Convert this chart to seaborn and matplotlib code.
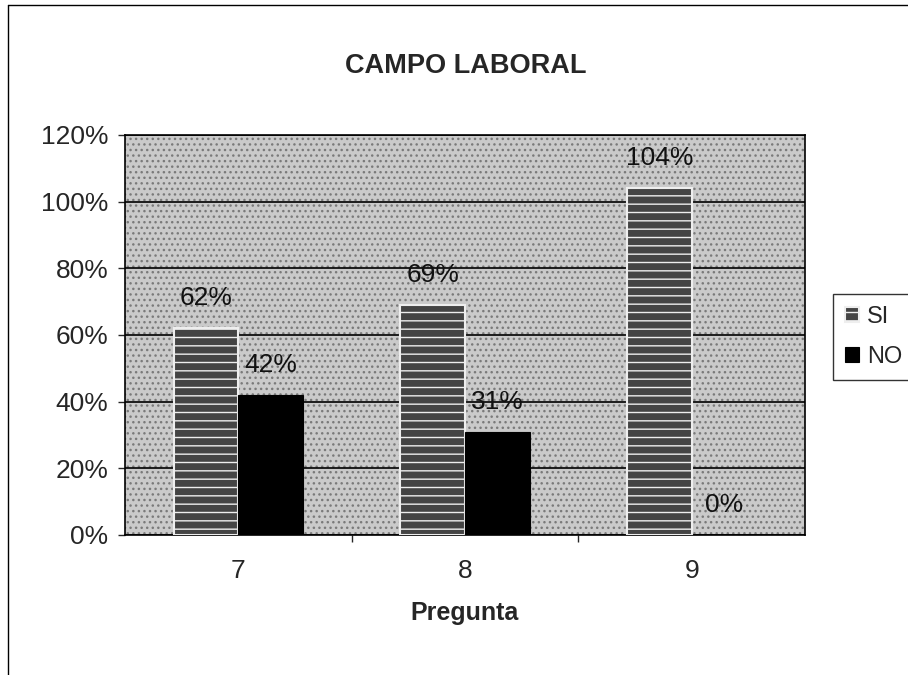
import matplotlib
matplotlib.use("Agg")
import matplotlib.pyplot as plt
import seaborn as sns
import pandas as pd
from matplotlib.patches import Rectangle
from matplotlib.lines import Line2D

categories = ["7", "8", "9"]
series_names = ["SI", "NO"]
si_values = [0.62, 0.69, 1.04]
no_values = [0.42, 0.31, 0.0]
si_labels = ["62%", "69%", "104%"]
no_labels = ["42%", "31%", "0%"]
y_ticks = [0.0, 0.2, 0.4, 0.6, 0.8, 1.0, 1.2]
y_tick_labels = ["0%", "20%", "40%", "60%", "80%", "100%", "120%"]

df = pd.DataFrame({
    "Pregunta": categories * 2,
    "Serie": [series_names[0]] * 3 + [series_names[1]] * 3,
    "Valor": si_values + no_values,
})

sns.set_theme(style="white")
plt.rcParams["font.family"] = ["Liberation Sans", "DejaVu Sans"]

fig = plt.figure(figsize=(9.08, 6.75), dpi=100)
ax = fig.add_axes([125 / 908, 1 - 535 / 675, (805 - 125) / 908, (535 - 135) / 675])

ax.set_facecolor("#cacaca")
# stippled background texture
ax.add_patch(Rectangle((0, 0), 1, 1, transform=ax.transAxes, facecolor="none",
                       edgecolor="#7a7a7a", hatch="...", lw=0, zorder=0))

sns.barplot(data=df, x="Pregunta", y="Valor", hue="Serie", order=categories,
            hue_order=series_names, palette=["#444444", "#000000"],
            width=0.57, ax=ax, legend=False, zorder=3, saturation=1)

for bar in ax.containers[0]:
    bar.set_edgecolor("#eeeeee")
    bar.set_hatch("--")
    bar.set_linewidth(1.5)
for bar in ax.containers[1]:
    bar.set_edgecolor("black")
    bar.set_linewidth(0.8)

for container, labels in zip(ax.containers, [si_labels, no_labels]):
    ax.bar_label(container, labels=labels, padding=13, fontsize=19, color="#111111")

ax.set_ylim(0, 1.2)
ax.set_yticks(y_ticks)
ax.set_yticklabels(y_tick_labels, fontsize=19)
ax.set_xlim(-0.5, 2.5)
ax.tick_params(axis="x", labelsize=19, length=0, pad=17)
ax.tick_params(axis="y", length=5, width=1, direction="out", left=True, pad=7)
ax.set_xticks([0.5, 1.5], minor=True)
ax.tick_params(axis="x", which="minor", length=5, width=1, direction="out", bottom=True)
ax.yaxis.grid(True, color="black", lw=1.2, zorder=1)
ax.set_axisbelow(True)
for s in ax.spines.values():
    s.set_visible(True)
    s.set_color("black")
    s.set_linewidth(1.2)

ax.set_ylabel("")
ax.set_xlabel("Pregunta", fontsize=18, fontweight="bold", labelpad=13)

fig.text(466 / 908, 1 - 66 / 675, "CAMPO LABORAL", ha="center", va="center",
         fontsize=19.5, fontweight="bold")

handles = [ax.containers[0][0], ax.containers[1][0]]
leg = fig.legend(handles, series_names, loc="center left",
                 bbox_to_anchor=(833 / 908, 1 - 337 / 675), fontsize=17,
                 frameon=True, handlelength=0.6, handleheight=0.6,
                 handletextpad=0.35, labelspacing=0.75, borderpad=0.5,
                 borderaxespad=0, fancybox=False)
leg.get_frame().set_edgecolor("black")
leg.get_frame().set_linewidth(1.0)

# outer chart frame (left and top edges)
fig.add_artist(Line2D([8 / 908, 8 / 908], [0, 1 - 5 / 675], transform=fig.transFigure,
                      color="black", lw=1))
fig.add_artist(Line2D([8 / 908, 1], [1 - 5 / 675, 1 - 5 / 675], transform=fig.transFigure,
                      color="black", lw=1))

fig.savefig("out.png", dpi=100)
